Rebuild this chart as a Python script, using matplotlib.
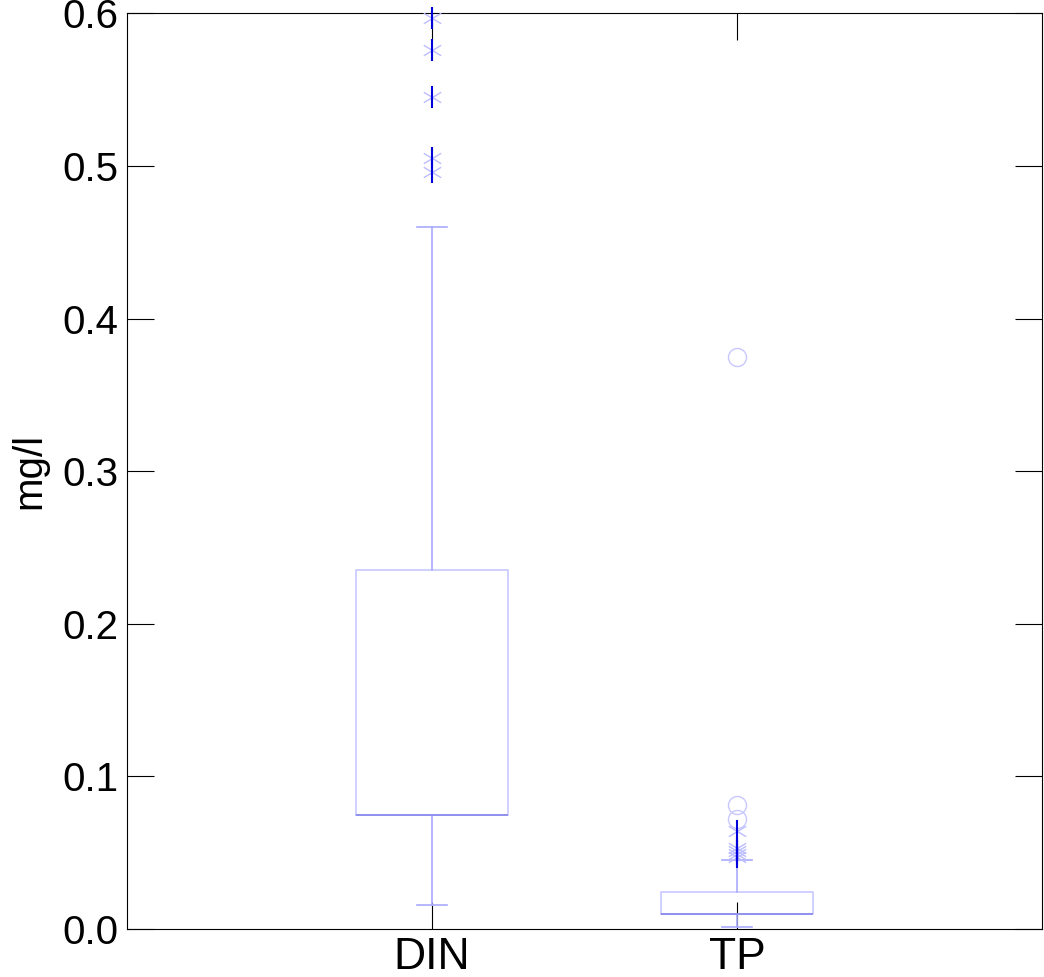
import matplotlib
matplotlib.use("Agg")
import matplotlib.pyplot as plt
from matplotlib.path import Path

plt.rcParams['font.family'] = ['Liberation Sans', 'DejaVu Sans']

categories = ['DIN', 'TP']
q1 = [0.075, 0.010]
medians = [0.075, 0.010]
q3 = [0.235, 0.024]
whisker_low = [0.0155, 0.0013]
whisker_high = [0.460, 0.045]
outliers_x = [
    [0.597, 0.576, 0.545, 0.505, 0.496],
    [0.064, 0.053, 0.051, 0.049, 0.047],
]
outliers_o = [
    [],
    [0.375, 0.081, 0.072],
]
yticks = [0.0, 0.1, 0.2, 0.3, 0.4, 0.5, 0.6]
ytick_labels = ['0.0', '0.1', '0.2', '0.3', '0.4', '0.5', '0.6']

# wide, flat "x" marker
wide_x = Path([(-1.0, -0.6), (1.0, 0.6), (-1.0, 0.6), (1.0, -0.6)],
              [Path.MOVETO, Path.LINETO, Path.MOVETO, Path.LINETO])

fig = plt.figure(figsize=(10.44, 9.77), dpi=100)
ax = fig.add_axes([0.1216, 0.0491, 0.8764, 0.9373])

stats = []
for i, c in enumerate(categories):
    stats.append(dict(label=c, med=medians[i], q1=q1[i], q3=q3[i],
                      whislo=whisker_low[i], whishi=whisker_high[i], fliers=[]))

positions = [1, 2]
ax.bxp(stats, positions=positions, widths=0.5, showfliers=False,
       capwidths=0.1,
       boxprops=dict(color='#c8c8ff', linewidth=1.2),
       whiskerprops=dict(color='#aaaaff', linewidth=1.2),
       capprops=dict(color='#aaaaff', linewidth=1.2),
       medianprops=dict(color='#9090ee', linewidth=1.4))

for p, xs, os_ in zip(positions, outliers_x, outliers_o):
    if xs:
        ax.plot([p] * len(xs), xs, linestyle='none', marker=wide_x, markersize=12.5,
                markeredgewidth=1.0, color='#bcbcff', clip_on=False, zorder=3)
        ax.plot([p] * len(xs), xs, linestyle='none', marker='|', markersize=15.5,
                markeredgewidth=1.5, color='#0000dd', clip_on=False, zorder=4)
    if os_:
        ax.plot([p] * len(os_), os_, linestyle='none', marker='o', markersize=13,
                markerfacecolor='none', markeredgewidth=1.0, color='#c8c8ff',
                clip_on=False, zorder=3)

ax.set_xlim(0, 3)
ax.set_ylim(0, 0.6)
ax.set_xticks(positions)
ax.set_xticklabels(categories, fontsize=32)
ax.set_yticks(yticks)
ax.set_yticklabels(ytick_labels, fontsize=29)
ax.set_ylabel('mg/l', fontsize=29, labelpad=10)

ax.tick_params(direction='in', length=19.5, width=0.8, top=True, right=True,
               color='black', pad=6)
for s in ax.spines.values():
    s.set_linewidth(0.8)
    s.set_color('black')

fig.savefig('out.png', dpi=100)
